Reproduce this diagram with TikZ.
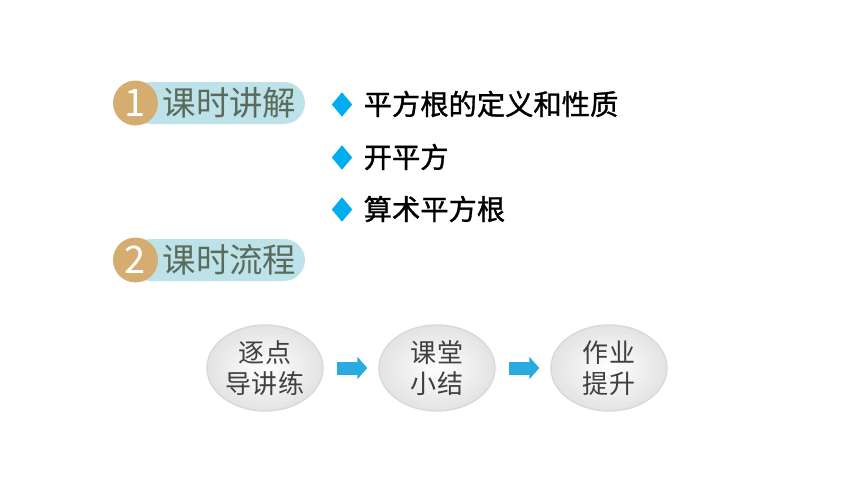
\documentclass[tikz,border=0pt]{standalone}
\usepackage{fontspec}
\setmainfont{Noto Sans CJK SC}
\newfontfamily\heiti{Noto Sans CJK SC}[FakeBold=1.2]
\usepackage{tikz}
\usetikzlibrary{arrows.meta}
\usetikzlibrary{positioning}
\usetikzlibrary{shapes}

\definecolor{pillblue}{RGB}{190,226,233}
\definecolor{numtan}{RGB}{214,173,112}
\definecolor{titlegreen}{RGB}{91,107,90}
\definecolor{bulletblue}{RGB}{0,174,239}
\definecolor{arrowblue}{RGB}{41,171,226}
\definecolor{flowgray}{RGB}{64,64,64}

\begin{document}
\begin{tikzpicture}[node distance=1.72cm,
    pill/.style={fill=pillblue,rounded corners=0.21cm,minimum width=1.75cm,minimum height=0.42cm,inner sep=0},
    num/.style={circle,fill=numtan,minimum size=0.45cm,inner sep=0,text=white,font=\fontsize{10.8}{12}\selectfont},
    title/.style={anchor=west,inner sep=0,text=titlegreen,font=\fontsize{9.5}{11}\selectfont},
    bullet/.style={diamond,fill=bulletblue,minimum width=0.21cm,minimum height=0.25cm,inner sep=0},
    item/.style={anchor=west,inner sep=0,font=\heiti\fontsize{8.05}{9}\selectfont},
    flow/.style={draw=gray!30,ellipse,shading=radial,inner color=white,outer color=gray!22,minimum width=1.16cm,minimum height=0.86cm,inner sep=0,align=center,text=flowgray,font=\fontsize{7.4}{8.8}\selectfont},
    go/.style={arrowblue,line width=0.13cm,-{Triangle[length=0.1cm,width=0.22cm]},shorten <=0.13cm,shorten >=0.11cm}]
          \useasboundingbox (0,0) rectangle (8.6,4.84);
          % section headings
          \node[pill] (pillA) at (2.175,3.81) {};
          \node[num] (numA) at (1.355,3.81) {1};
          \node[title] (titleA) at (1.62,3.81) {课时讲解};
          \node[pill] (pillB) at (2.175,2.24) {};
          \node[num] (numB) at (1.355,2.24) {2};
          \node[title] (titleB) at (1.62,2.24) {课时流程};
          % bullet list
          \node[bullet] (dotA) at (3.42,3.795) {};
          \node[item] (itemA) at (3.63,3.80) {平方根的定义和性质};
          \node[bullet] (dotB) at (3.42,3.265) {};
          \node[item] (itemB) at (3.63,3.27) {开平方};
          \node[bullet] (dotC) at (3.42,2.745) {};
          \node[item] (itemC) at (3.63,2.75) {算术平方根};
          % flow
          \node[flow] (stepA) at (2.65,1.16) {逐点\\导讲练};
          \node[flow,right of=stepA] (stepB) {课堂\\小结};
          \node[flow,right of=stepB] (stepC) {作业\\提升};
          \draw[go] (stepA) -- (stepB);
          \draw[go] (stepB) -- (stepC);
        \end{tikzpicture}
\end{document}
